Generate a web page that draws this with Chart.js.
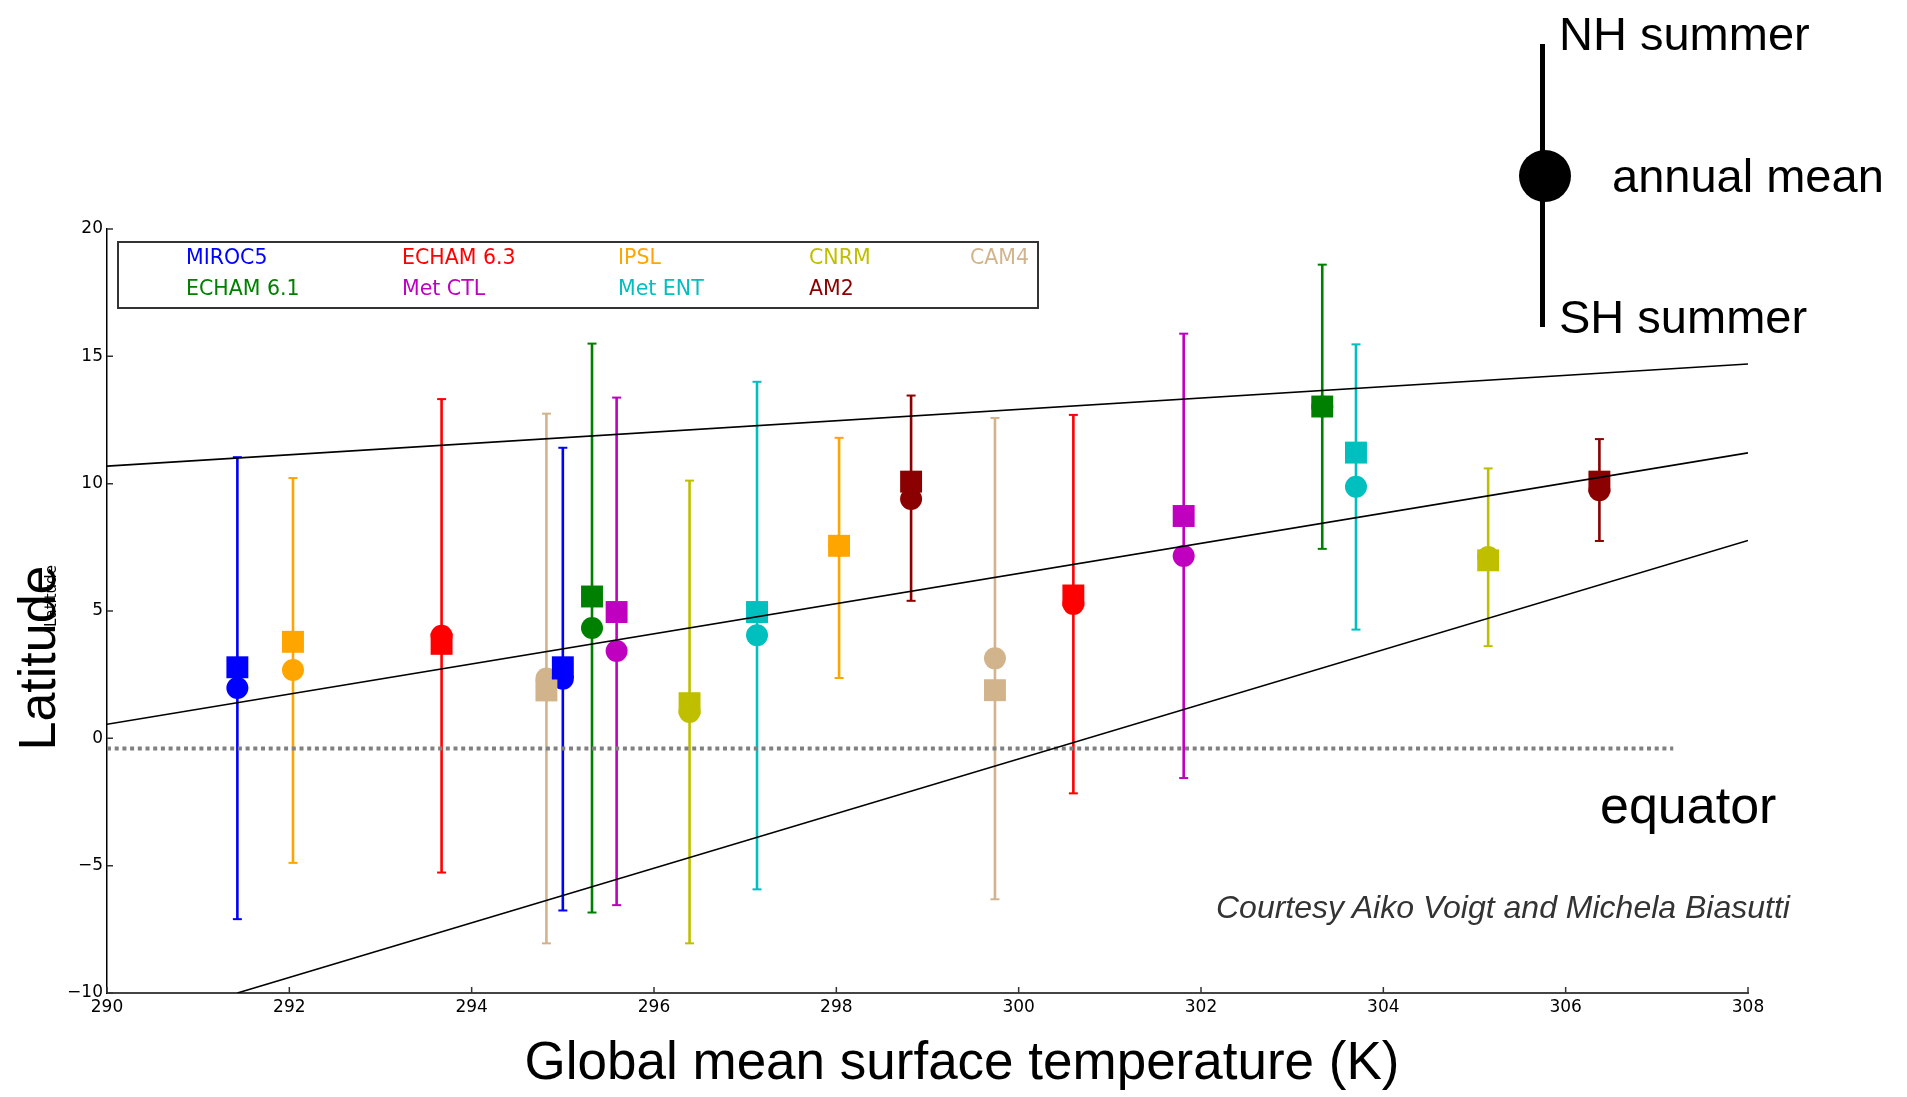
<!DOCTYPE html>
<html>
<head>
<meta charset="utf-8">
<script src="https://cdn.jsdelivr.net/npm/chart.js@4.4.1/dist/chart.umd.min.js"></script>
<style>
  body { margin: 0; background: #fff; }
  #wrap { position: relative; width: 1907px; height: 1097px; overflow: hidden; }
  #chart { position: absolute; left: 0; top: 0; }
  .note { position: absolute; font-family: "Liberation Sans", Arial, sans-serif; color: #000; white-space: nowrap; line-height: normal; }
  #legend { position: absolute; left: 117px; top: 241px; width: 918px; height: 64px; border: 2px solid #333; }
  #legend span { position: absolute; font-family: "DejaVu Sans", sans-serif; font-size: 20.5px; line-height: normal; white-space: nowrap; }
</style>
</head>
<body>
<div id="wrap">
  <canvas id="chart" width="1907" height="1097"></canvas>
  <div id="legend"></div>

  <div class="note" style="left:1559px; top:6px; font-size:47px;">NH summer</div>
  <div style="position:absolute; left:1540px; top:44px; width:5px; height:283px; background:#000;"></div>
  <div style="position:absolute; left:1519px; top:150px; width:52px; height:52px; border-radius:50%; background:#000;"></div>
  <div class="note" style="left:1612px; top:148px; font-size:47px;">annual mean</div>
  <div class="note" style="left:1559px; top:289px; font-size:47px;">SH summer</div>

  <div class="note" style="left:1600px; top:775px; font-size:52px;">equator</div>
  <div class="note" style="left:1216px; top:889px; font-size:32px; font-style:italic; color:#333;">Courtesy Aiko Voigt and Michela Biasutti</div>

  <div class="note" style="left:962px; top:1030px; font-size:53px; transform:translateX(-50%);">Global mean surface temperature (K)</div>
  <div class="note" style="left:37px; top:658px; font-size:52px; transform:translate(-50%,-50%) rotate(-90deg);">Latitude</div>
  <div class="note" style="left:51px; top:596px; font-size:15px; font-family:'DejaVu Sans', sans-serif; transform:translate(-50%,-50%) rotate(-90deg);">Latitude</div>
</div>

<script>
// models, in legend order (column by column)
const modelNames = ["MIROC5", "ECHAM 6.1", "ECHAM 6.3", "Met CTL", "IPSL", "Met ENT", "CNRM", "AM2", "CAM4"];
const modelColors = ["#0000ff", "#008000", "#ff0000", "#bf00bf", "#ffa500", "#00bfbf", "#bfbf00", "#8b0000", "#d2b48c"];

// one entry per simulation
const runModel  = [0, 4, 2, 8, 0, 1, 3, 6, 5, 4, 7, 8, 2, 3, 1, 5, 6, 7];
const runTemp   = [291.43, 292.04, 293.67, 294.82, 295.0, 295.32, 295.59, 296.39, 297.13,
                   298.03, 298.82, 299.74, 300.6, 301.81, 303.33, 303.7, 305.15, 306.37];
const nhSummer  = [11.04, 10.22, 13.32, 12.75, 11.41, 15.5, 13.38, 10.12, 14.0,
                   11.8, 13.46, 12.58, 12.7, 15.89, 18.6, 15.47, 10.6, 11.75];
const shSummer  = [-7.1, -4.89, -5.27, -8.05, -6.76, -6.84, -6.55, -8.05, -5.93,
                   2.37, 5.4, -6.32, -2.16, -1.56, 7.44, 4.27, 3.62, 7.75];
const squareLat = [2.79, 3.79, 3.71, 1.88, 2.79, 5.57, 4.96, 1.38, 4.96,
                   7.56, 10.08, 1.89, 5.61, 8.73, 13.03, 11.22, 6.99, 10.08];
const annualMean = [1.98, 2.68, 4.03, 2.35, 2.34, 4.33, 3.43, 1.04, 4.05,
                    7.56, 9.4, 3.14, 5.28, 7.16, 13.03, 9.88, 7.12, 9.74];

// reference lines
const lineUpperX = [290, 308], lineUpperY = [10.69, 14.7];
const lineMidX   = [290, 308], lineMidY   = [0.55, 11.21];
const lineLowX   = [291.43, 308], lineLowY = [-10, 7.77];
const equatorX   = [290, 307.18], equatorY = [-0.4, -0.4];

// axis ticks
const xTicks = [290, 292, 294, 296, 298, 300, 302, 304, 306, 308];
const yTicks = [-10, -5, 0, 5, 10, 15, 20];

// legend, column-major like the original
const legendEl = document.getElementById("legend");
const colX = [67, 283, 499, 690, 851];
modelNames.forEach((name, i) => {
    const s = document.createElement("span");
    s.textContent = name;
    s.style.color = modelColors[i];
    s.style.left = colX[Math.floor(i / 2)] + "px";
    s.style.top = (i % 2 === 0 ? 2 : 33) + "px";
    legendEl.appendChild(s);
});

Chart.defaults.font.family = "'DejaVu Sans', sans-serif";
Chart.defaults.color = "#000";

const toPts = (xs, ys) => xs.map((x, i) => ({x: x, y: ys[i]}));

function refLine(xs, ys) {
    return {
        type: "line",
        data: toPts(xs, ys),
        showLine: true,
        borderColor: "#000",
        borderWidth: 1.6,
        pointRadius: 0,
        order: 0
    };
}

// error bars: NH summer to SH summer with small caps
const errorBars = runTemp.map((t, i) => ({
    type: "line",
    data: [{x: t, y: nhSummer[i]}, {x: t, y: shSummer[i]}],
    showLine: true,
    borderColor: modelColors[runModel[i]],
    borderWidth: 2.6,
    pointStyle: "line",
    pointRadius: 4.5,
    pointBorderWidth: 2,
    pointBorderColor: modelColors[runModel[i]],
    order: 2
}));

const runColors = runModel.map(m => modelColors[m]);

const datasets = [
    refLine(lineUpperX, lineUpperY),
    refLine(lineMidX, lineMidY),
    refLine(lineLowX, lineLowY),
    {
        type: "line",
        data: toPts(equatorX, equatorY),
        showLine: true,
        borderColor: "#808080",
        borderWidth: 4,
        borderDash: [4, 3.7],
        pointRadius: 0,
        order: 0
    },
    {
        type: "scatter",
        data: toPts(runTemp, squareLat),
        pointStyle: "rect",
        pointRadius: 15.5,
        pointBorderWidth: 0,
        pointBackgroundColor: runColors,
        order: 1
    },
    {
        type: "scatter",
        data: toPts(runTemp, annualMean),
        pointStyle: "circle",
        pointRadius: 11,
        pointBorderWidth: 0,
        pointBackgroundColor: runColors,
        order: 1
    },
    ...errorBars
];

// ticks pointing into the plot, like matplotlib's old default
const inwardTicks = {
    id: "inwardTicks",
    afterDraw(chart) {
        const {ctx, chartArea, scales} = chart;
        ctx.save();
        ctx.strokeStyle = "#333";
        ctx.lineWidth = 1.5;
        ctx.beginPath();
        xTicks.forEach(v => {
            const px = scales.x.getPixelForValue(v);
            ctx.moveTo(px, chartArea.bottom);
            ctx.lineTo(px, chartArea.bottom - 6);
        });
        yTicks.forEach(v => {
            const py = scales.y.getPixelForValue(v);
            ctx.moveTo(chartArea.left, py);
            ctx.lineTo(chartArea.left + 6, py);
        });
        ctx.stroke();
        ctx.restore();
    }
};

new Chart(document.getElementById("chart"), {
    type: "scatter",
    data: {datasets: datasets},
    options: {
        responsive: false,
        devicePixelRatio: 1,
        animation: false,
        events: [],
        layout: {padding: {left: 0, top: 229, right: 159, bottom: 0}},
        plugins: {
            legend: {display: false},
            tooltip: {enabled: false}
        },
        scales: {
            x: {
                type: "linear",
                min: 290,
                max: 308,
                afterBuildTicks: s => { s.ticks = xTicks.map(v => ({value: v})); },
                afterFit: s => { s.height = 104; },
                grid: {display: false, drawTicks: false},
                border: {display: true, color: "#444", width: 2},
                ticks: {font: {size: 17}, padding: 4, color: "#000"}
            },
            y: {
                type: "linear",
                min: -10,
                max: 20,
                afterBuildTicks: s => { s.ticks = yTicks.map(v => ({value: v})); },
                afterFit: s => { s.width = 107; },
                grid: {display: false, drawTicks: false},
                border: {display: true, color: "#000", width: 1.5},
                ticks: {
                    font: {size: 17},
                    padding: 4,
                    color: "#000",
                    callback: v => v < 0 ? "\u2212" + Math.abs(v) : String(v)
                }
            }
        }
    },
    plugins: [inwardTicks]
});
</script>
</body>
</html>
